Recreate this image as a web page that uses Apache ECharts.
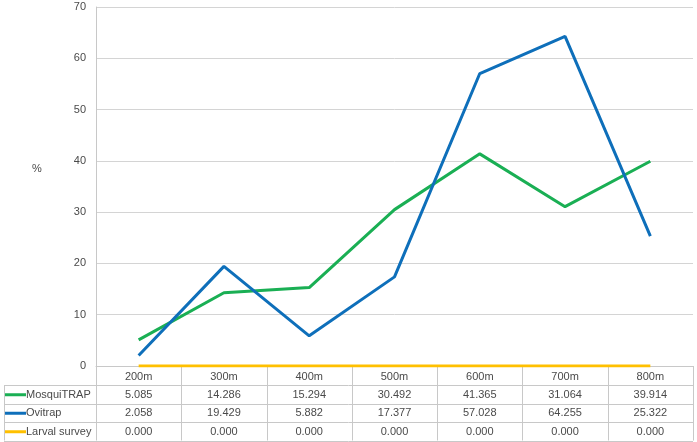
<!DOCTYPE html>
<html>
<head>
<meta charset="utf-8">
<script src="https://cdn.jsdelivr.net/npm/echarts@6/dist/echarts.min.js"></script>
<style>
html,body{margin:0;padding:0;background:#fff;}
#main{width:697px;height:442px;}
</style>
</head>
<body>
<div id="main"></div>
<script>
// data
var distances = ['200m', '300m', '400m', '500m', '600m', '700m', '800m'];
var mosquiTRAP = [5.085, 14.286, 15.294, 30.492, 41.365, 31.064, 39.914];
var ovitrap = [2.058, 19.429, 5.882, 17.377, 57.028, 64.255, 25.322];
var larvalSurvey = [0, 0, 0, 0, 0, 0, 0];

var seriesNames = ['MosquiTRAP', 'Ovitrap', 'Larval survey'];
var seriesData = [mosquiTRAP, ovitrap, larvalSurvey];
var colors = ['#1aaf54', '#0e6fba', '#ffc000'];

// layout (pixels)
var W = 697;
var gridLeft = 96, gridRight = 4, gridTop = 7, gridBottom = 76;
var plotBottom = 442 - gridBottom;   // y of zero line
var rowH = 18.5;
var tableLeft = 4;
var plotW = W - gridLeft - gridRight;
var colW = plotW / distances.length;
var lineCol = '#c8c8c8';
var txtCol = '#4a4a4a';
var fontFam = '"Liberation Sans", Arial, sans-serif';

var chart = echarts.init(document.getElementById('main'));

// table drawn with graphic elements
var g = [];
function hline(x1, x2, y) {
  g.push({type: 'line', silent: true, shape: {x1: x1, y1: y, x2: x2, y2: y},
    style: {stroke: lineCol, lineWidth: 1}});
}
function vline(x, y1, y2) {
  g.push({type: 'line', silent: true, shape: {x1: x, y1: y1, x2: x, y2: y2},
    style: {stroke: lineCol, lineWidth: 1}});
}
var headerBottom = plotBottom + rowH + 0.5;
var tableBottom = headerBottom + rowH * 3;
var rightX = W - gridRight;
for (var r = 0; r <= 3; r++) {
  hline(tableLeft, rightX, Math.round(headerBottom + rowH * r) + 0.5);
}
vline(tableLeft + 0.5, headerBottom, tableBottom);
for (var c = 0; c <= distances.length; c++) {
  vline(Math.round(gridLeft + colW * c) + 0.5, plotBottom, tableBottom);
}
for (var s = 0; s < seriesNames.length; s++) {
  var cy = headerBottom + rowH * s + rowH / 2 + 0.5;
  g.push({type: 'line', silent: true, shape: {x1: 5, y1: cy, x2: 26, y2: cy},
    style: {stroke: colors[s], lineWidth: 3}});
  g.push({type: 'text', silent: true, x: 26, y: cy,
    style: {text: seriesNames[s], fill: txtCol, font: '11px ' + fontFam,
      verticalAlign: 'middle', align: 'left'}});
  for (var i = 0; i < distances.length; i++) {
    g.push({type: 'text', silent: true, x: gridLeft + colW * (i + 0.5), y: cy,
      style: {text: seriesData[s][i].toFixed(3), fill: txtCol,
        font: '11px ' + fontFam, align: 'center', verticalAlign: 'middle'}});
  }
}
g.push({type: 'text', silent: true, x: 37, y: 169,
  style: {text: '%', fill: txtCol, font: '11px ' + fontFam,
    align: 'center', verticalAlign: 'middle'}});

var series = [];
for (var k = 0; k < seriesNames.length; k++) {
  series.push({
    name: seriesNames[k],
    type: 'line',
    data: seriesData[k],
    symbol: 'none',
    lineStyle: {color: colors[k], width: 3},
    itemStyle: {color: colors[k]},
    z: 3 + k
  });
}

var option = {
  animation: false,
  backgroundColor: '#fff',
  grid: {left: gridLeft, right: gridRight, top: gridTop, bottom: gridBottom},
  xAxis: {
    type: 'category',
    data: distances,
    boundaryGap: true,
    axisLine: {show: true, lineStyle: {color: lineCol, width: 1}},
    axisTick: {show: false},
    axisLabel: {color: txtCol, fontSize: 11, fontFamily: fontFam, margin: 11,
      verticalAlign: 'middle'}
  },
  yAxis: {
    type: 'value',
    min: 0,
    max: 70,
    interval: 10,
    axisLine: {show: true, lineStyle: {color: lineCol, width: 1}},
    axisTick: {show: false},
    splitLine: {lineStyle: {color: '#d4d4d4', width: 1}},
    axisLabel: {color: txtCol, fontSize: 11, fontFamily: fontFam, margin: 10}
  },
  graphic: g,
  series: series
};
chart.setOption(option);
</script>
</body>
</html>
